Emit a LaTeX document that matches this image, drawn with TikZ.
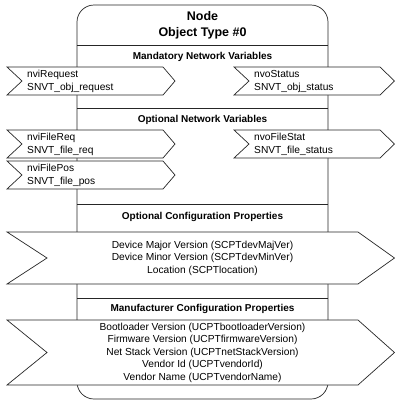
\documentclass[tikz,border=0pt]{standalone}
\usepackage{fontspec}
\setmainfont{Liberation Sans}
\begin{document}
\begin{tikzpicture}[x=1pt, y=-1pt,
			every node/.style = {inner sep=0pt, font=\fontsize{10.2}{12.5}\selectfont},
			frame/.style = {draw=black!85, line width=0.7pt},
			port/.style = {draw=black!85, fill=white, line width=0.7pt},
			title/.style = {align=center, font=\bfseries\fontsize{12.5}{16}\selectfont},
			group/.style = {font=\bfseries\fontsize{10}{12}\selectfont},
			leftport/.style = {anchor=west, align=left, font=\fontsize{10.2}{13}\selectfont},
			listport/.style = {align=center}]
			
			\useasboundingbox (0,0) rectangle (395,400);
			
			% object body
			\draw[frame, fill=white, rounded corners=17pt] (77,5) rectangle (328,399);
			\node[title] (objname) at (202.5,25) {Node\\Object Type \#0};
			\draw[frame] (77,45) -- (328,45);
			\draw[frame] (77,108) -- (328,108);
			\draw[frame] (77,204) -- (328,204);
			\draw[frame] (77,298) -- (328,298);
			
			% mandatory network variables
			\node[group] (mandnv) at (202.5,57) {Mandatory Network Variables};
			\draw[port] (7,67) -- (163,67) -- (175,81) -- (163,95) -- (7,95) -- (22,81) -- cycle;
			\node[leftport] (nvirequest) at (27,81) {nviRequest\\SNVT\_obj\_request};
			\draw[port] (234,67) -- (380,67) -- (394.5,81) -- (380,95) -- (234,95) -- (249,81) -- cycle;
			\node[leftport] (nvostatus) at (254,81) {nvoStatus\\SNVT\_obj\_status};
			
			% optional network variables
			\node[group] (optnv) at (202.5,120) {Optional Network Variables};
			\draw[port] (7,130) -- (163,130) -- (175,144) -- (163,158) -- (7,158) -- (22,144) -- cycle;
			\node[leftport] (nvifilereq) at (27,144) {nviFileReq\\SNVT\_file\_req};
			\draw[port] (7,161) -- (163,161) -- (175,175) -- (163,189) -- (7,189) -- (22,175) -- cycle;
			\node[leftport] (nvifilepos) at (27,175) {nviFilePos\\SNVT\_file\_pos};
			\draw[port] (234,130) -- (380,130) -- (394.5,144) -- (380,158) -- (234,158) -- (249,144) -- cycle;
			\node[leftport] (nvofilestat) at (254,144) {nvoFileStat\\SNVT\_file\_status};
			
			% optional configuration properties
			\node[group] (optcp) at (202.5,217) {Optional Configuration Properties};
			\draw[port] (7,232) -- (358,232) -- (394.5,258) -- (358,284) -- (7,284) -- (47,258) -- cycle;
			\node[listport] (optcplist) at (202.5,258) {Device Major Version (SCPTdevMajVer)\\
				Device Minor Version (SCPTdevMinVer)\\Location (SCPTlocation)};
			
			% manufacturer configuration properties
			\node[group] (mfgcp) at (202.5,309) {Manufacturer Configuration Properties};
			\draw[port] (7,320) -- (358,320) -- (394.5,352.5) -- (358,385) -- (7,385) -- (47,352.5) -- cycle;
			\node[listport] (mfgcplist) at (202.5,352.5) {Bootloader Version (UCPTbootloaderVersion)\\
				Firmware Version (UCPTfirmwareVersion)\\Net Stack Version (UCPTnetStackVersion)\\
				Vendor Id (UCPTvendorId)\\Vendor Name (UCPTvendorName)};
		\end{tikzpicture}
\end{document}
